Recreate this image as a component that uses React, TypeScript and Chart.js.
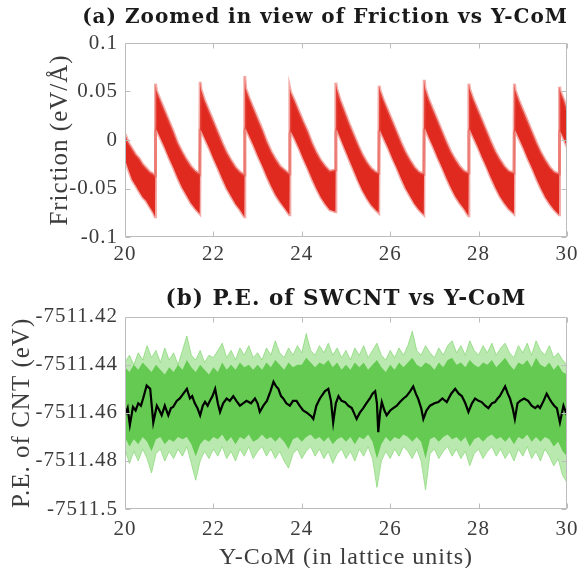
import React, { useEffect, useRef } from 'react';
import { Chart, registerables } from 'chart.js';

Chart.register(...registerables);

// ---------- (a) Friction vs Y-CoM : noisy band read as upper / lower envelope ----------
const frictionX = [
  20.00, 20.08, 20.16, 20.24, 20.32, 20.40, 20.48, 20.56, 20.64, 20.68,
  20.69, 20.71, 20.79, 20.89, 20.99, 21.09, 21.19, 21.29, 21.39, 21.49, 21.59, 21.69,
  21.70, 21.72, 21.80, 21.90, 22.00, 22.10, 22.20, 22.30, 22.40, 22.50, 22.60, 22.70,
  22.71, 22.73, 22.81, 22.91, 23.01, 23.11, 23.21, 23.31, 23.41, 23.51, 23.61, 23.72,
  23.73, 23.75, 23.83, 23.93, 24.03, 24.13, 24.23, 24.33, 24.43, 24.53, 24.63, 24.76,
  24.77, 24.79, 24.87, 24.97, 25.07, 25.17, 25.27, 25.37, 25.47, 25.57, 25.67, 25.74,
  25.75, 25.77, 25.85, 25.95, 26.05, 26.15, 26.25, 26.35, 26.45, 26.55, 26.65, 26.76,
  26.77, 26.79, 26.87, 26.97, 27.07, 27.17, 27.27, 27.37, 27.47, 27.57, 27.67, 27.77,
  27.78, 27.80, 27.88, 27.98, 28.08, 28.18, 28.28, 28.38, 28.48, 28.58, 28.68, 28.80,
  28.81, 28.83, 28.91, 29.01, 29.11, 29.21, 29.31, 29.41, 29.51, 29.61, 29.71, 29.82,
  29.83, 29.85, 29.93, 30.00,
];
const frictionHi = [
  0.006, -0.003, -0.009, -0.015, -0.019, -0.025, -0.029, -0.033, -0.035, -0.037,
  0.058, 0.051, 0.042, 0.031, 0.020, 0.009, -0.003, -0.012, -0.020, -0.027, -0.032, -0.035,
  0.060, 0.052, 0.041, 0.030, 0.019, 0.008, -0.003, -0.013, -0.021, -0.028, -0.033, -0.036,
  0.066, 0.053, 0.043, 0.032, 0.021, 0.010, -0.002, -0.012, -0.020, -0.027, -0.031, -0.035,
  0.053, 0.049, 0.041, 0.030, 0.019, 0.009, -0.003, -0.013, -0.021, -0.027, -0.032, -0.031,
  0.059, 0.053, 0.041, 0.029, 0.017, 0.006, -0.005, -0.015, -0.023, -0.029, -0.033, -0.034,
  0.056, 0.051, 0.041, 0.030, 0.019, 0.008, -0.003, -0.013, -0.021, -0.028, -0.033, -0.035,
  0.062, 0.053, 0.042, 0.031, 0.020, 0.009, -0.002, -0.012, -0.020, -0.027, -0.032, -0.034,
  0.058, 0.052, 0.042, 0.031, 0.020, 0.009, -0.002, -0.012, -0.020, -0.027, -0.032, -0.034,
  0.058, 0.051, 0.041, 0.030, 0.019, 0.008, -0.003, -0.013, -0.021, -0.028, -0.033, -0.035,
  0.055, 0.050, 0.041, 0.031,
];
const frictionLo = [
  -0.020, -0.031, -0.041, -0.047, -0.053, -0.059, -0.063, -0.069, -0.075, -0.079,
  0.008, 0.011, 0.003, -0.007, -0.018, -0.028, -0.039, -0.049, -0.057, -0.065, -0.071, -0.076,
  0.010, 0.010, 0.002, -0.008, -0.019, -0.029, -0.040, -0.050, -0.058, -0.066, -0.072, -0.079,
  0.010, 0.012, 0.004, -0.006, -0.017, -0.027, -0.038, -0.048, -0.057, -0.064, -0.070, -0.077,
  0.006, 0.009, 0.002, -0.008, -0.019, -0.029, -0.040, -0.050, -0.059, -0.066, -0.072, -0.074,
  0.008, 0.011, 0.002, -0.009, -0.020, -0.031, -0.042, -0.052, -0.060, -0.067, -0.072, -0.075,
  0.008, 0.010, 0.002, -0.008, -0.019, -0.029, -0.040, -0.050, -0.058, -0.066, -0.072, -0.077,
  0.010, 0.012, 0.003, -0.007, -0.018, -0.028, -0.039, -0.049, -0.058, -0.065, -0.071, -0.078,
  0.009, 0.011, 0.003, -0.007, -0.018, -0.028, -0.039, -0.049, -0.058, -0.065, -0.071, -0.076,
  0.008, 0.010, 0.002, -0.008, -0.019, -0.029, -0.040, -0.050, -0.059, -0.066, -0.072, -0.077,
  0.008, 0.009, 0.001, -0.007,
];
const frictionTicksY = [-0.1, -0.05, 0, 0.05, 0.1];
const comTicksX = [20, 22, 24, 26, 28, 30];

// ---------- (b) P.E. of SWCNT vs Y-CoM ----------
const peBandX = [
  20.0, 20.1, 20.2, 20.3, 20.4, 20.5, 20.6, 20.7, 20.8, 20.9,
  21.0, 21.1, 21.2, 21.3, 21.4, 21.5, 21.6, 21.7, 21.8, 21.9,
  22.0, 22.1, 22.2, 22.3, 22.4, 22.5, 22.6, 22.7, 22.8, 22.9,
  23.0, 23.1, 23.2, 23.3, 23.4, 23.5, 23.6, 23.7, 23.8, 23.9,
  24.0, 24.1, 24.2, 24.3, 24.4, 24.5, 24.6, 24.7, 24.8, 24.9,
  25.0, 25.1, 25.2, 25.3, 25.4, 25.5, 25.6, 25.7, 25.8, 25.9,
  26.0, 26.1, 26.2, 26.3, 26.4, 26.5, 26.6, 26.7, 26.8, 26.9,
  27.0, 27.1, 27.2, 27.3, 27.4, 27.5, 27.6, 27.7, 27.8, 27.9,
  28.0, 28.1, 28.2, 28.3, 28.4, 28.5, 28.6, 28.7, 28.8, 28.9,
  29.0, 29.1, 29.2, 29.3, 29.4, 29.5, 29.6, 29.7, 29.8, 29.9, 30.0,
];
// spike envelope (light green)
const peOuterHi = [
  -7511.439, -7511.436, -7511.440, -7511.435, -7511.438, -7511.432, -7511.437, -7511.434, -7511.439, -7511.433,
  -7511.438, -7511.435, -7511.440, -7511.434, -7511.428, -7511.436, -7511.438, -7511.434, -7511.439, -7511.436,
  -7511.437, -7511.434, -7511.431, -7511.437, -7511.434, -7511.438, -7511.433, -7511.436, -7511.432, -7511.437,
  -7511.435, -7511.438, -7511.433, -7511.436, -7511.430, -7511.435, -7511.437, -7511.433, -7511.436, -7511.432,
  -7511.435, -7511.427, -7511.434, -7511.436, -7511.432, -7511.435, -7511.431, -7511.436, -7511.433, -7511.437,
  -7511.434, -7511.438, -7511.433, -7511.436, -7511.432, -7511.437, -7511.434, -7511.431, -7511.436, -7511.438,
  -7511.434, -7511.437, -7511.433, -7511.436, -7511.432, -7511.426, -7511.434, -7511.436, -7511.432, -7511.435,
  -7511.437, -7511.433, -7511.436, -7511.432, -7511.430, -7511.435, -7511.432, -7511.436, -7511.430, -7511.434,
  -7511.436, -7511.432, -7511.435, -7511.431, -7511.436, -7511.433, -7511.431, -7511.435, -7511.437, -7511.432,
  -7511.435, -7511.431, -7511.436, -7511.430, -7511.434, -7511.436, -7511.432, -7511.437, -7511.435, -7511.438, -7511.440,
];
const peOuterLo = [
  -7511.475, -7511.481, -7511.476, -7511.480, -7511.475, -7511.479, -7511.485, -7511.477, -7511.475, -7511.480,
  -7511.476, -7511.479, -7511.475, -7511.478, -7511.474, -7511.481, -7511.488, -7511.480, -7511.476, -7511.479,
  -7511.475, -7511.478, -7511.474, -7511.479, -7511.476, -7511.480, -7511.475, -7511.478, -7511.474, -7511.479,
  -7511.476, -7511.474, -7511.478, -7511.475, -7511.479, -7511.476, -7511.480, -7511.483, -7511.477, -7511.475,
  -7511.479, -7511.476, -7511.474, -7511.478, -7511.475, -7511.479, -7511.476, -7511.481, -7511.477, -7511.475,
  -7511.479, -7511.476, -7511.480, -7511.475, -7511.478, -7511.474, -7511.479, -7511.491, -7511.480, -7511.476,
  -7511.479, -7511.475, -7511.478, -7511.474, -7511.476, -7511.479, -7511.475, -7511.480, -7511.492, -7511.477,
  -7511.475, -7511.479, -7511.476, -7511.474, -7511.478, -7511.475, -7511.479, -7511.476, -7511.482, -7511.477,
  -7511.475, -7511.479, -7511.476, -7511.474, -7511.478, -7511.475, -7511.479, -7511.476, -7511.480, -7511.475,
  -7511.478, -7511.474, -7511.479, -7511.476, -7511.480, -7511.475, -7511.478, -7511.482, -7511.479, -7511.486, -7511.489,
];
// dense core of the noise (mid green)
const peInnerHi = [
  -7511.441, -7511.443, -7511.440, -7511.442, -7511.439, -7511.441, -7511.443, -7511.440, -7511.442, -7511.444,
  -7511.441, -7511.443, -7511.440, -7511.442, -7511.438, -7511.441, -7511.443, -7511.440, -7511.442, -7511.444,
  -7511.441, -7511.443, -7511.439, -7511.442, -7511.440, -7511.442, -7511.439, -7511.441, -7511.440, -7511.442,
  -7511.440, -7511.442, -7511.439, -7511.441, -7511.438, -7511.440, -7511.442, -7511.439, -7511.441, -7511.440,
  -7511.440, -7511.437, -7511.439, -7511.441, -7511.439, -7511.440, -7511.438, -7511.441, -7511.439, -7511.442,
  -7511.440, -7511.442, -7511.439, -7511.441, -7511.439, -7511.442, -7511.440, -7511.438, -7511.441, -7511.443,
  -7511.440, -7511.442, -7511.439, -7511.441, -7511.439, -7511.437, -7511.440, -7511.441, -7511.439, -7511.440,
  -7511.442, -7511.439, -7511.441, -7511.438, -7511.437, -7511.440, -7511.439, -7511.441, -7511.438, -7511.440,
  -7511.441, -7511.439, -7511.440, -7511.438, -7511.441, -7511.439, -7511.437, -7511.440, -7511.442, -7511.439,
  -7511.440, -7511.438, -7511.441, -7511.437, -7511.440, -7511.441, -7511.439, -7511.442, -7511.440, -7511.443, -7511.444,
];
const peInnerLo = [
  -7511.470, -7511.474, -7511.471, -7511.473, -7511.470, -7511.472, -7511.476, -7511.471, -7511.470, -7511.473,
  -7511.471, -7511.472, -7511.470, -7511.471, -7511.470, -7511.473, -7511.478, -7511.473, -7511.471, -7511.472,
  -7511.470, -7511.471, -7511.469, -7511.472, -7511.470, -7511.473, -7511.470, -7511.471, -7511.469, -7511.472,
  -7511.471, -7511.469, -7511.471, -7511.470, -7511.472, -7511.470, -7511.472, -7511.475, -7511.471, -7511.470,
  -7511.472, -7511.470, -7511.469, -7511.471, -7511.470, -7511.472, -7511.470, -7511.473, -7511.471, -7511.470,
  -7511.472, -7511.470, -7511.473, -7511.470, -7511.471, -7511.469, -7511.472, -7511.479, -7511.473, -7511.470,
  -7511.472, -7511.470, -7511.471, -7511.469, -7511.470, -7511.472, -7511.470, -7511.472, -7511.479, -7511.471,
  -7511.470, -7511.472, -7511.470, -7511.469, -7511.471, -7511.470, -7511.472, -7511.470, -7511.474, -7511.471,
  -7511.470, -7511.472, -7511.470, -7511.469, -7511.471, -7511.470, -7511.472, -7511.470, -7511.473, -7511.470,
  -7511.471, -7511.469, -7511.472, -7511.470, -7511.472, -7511.470, -7511.471, -7511.474, -7511.472, -7511.476, -7511.478,
];
// running average (black)
const peAvgX = [
  20.00, 20.06, 20.11, 20.18, 20.24, 20.30, 20.36, 20.41, 20.49, 20.57, 20.64, 20.72, 20.78, 20.83, 20.90, 20.98,
  21.04, 21.09, 21.17, 21.24, 21.32, 21.40, 21.47, 21.52, 21.58, 21.64, 21.70, 21.76, 21.81, 21.87, 21.92, 21.98,
  22.04, 22.10, 22.15, 22.22, 22.30, 22.37, 22.45, 22.52, 22.60, 22.67, 22.75, 22.85, 22.94,
  23.00, 23.05, 23.13, 23.21, 23.29, 23.36, 23.42, 23.47, 23.53, 23.58, 23.65, 23.73, 23.80, 23.88, 23.95,
  24.03, 24.12, 24.22, 24.26, 24.33, 24.41, 24.52, 24.60, 24.66, 24.71, 24.77, 24.83, 24.90, 24.98,
  25.05, 25.13, 25.18, 25.24, 25.31, 25.39, 25.46, 25.54, 25.60, 25.66, 25.70, 25.73, 25.77, 25.81, 25.87, 25.92,
  26.00, 26.07, 26.15, 26.22, 26.30, 26.37, 26.45, 26.52, 26.58, 26.63, 26.70, 26.75, 26.82, 26.90,
  27.00, 27.09, 27.18, 27.28, 27.38, 27.47, 27.55, 27.62, 27.70, 27.77, 27.85, 27.92,
  28.00, 28.07, 28.15, 28.22, 28.30, 28.37, 28.43, 28.48, 28.54, 28.60, 28.66, 28.71, 28.77, 28.82, 28.88, 28.94,
  29.03, 29.12, 29.20, 29.28, 29.34, 29.39, 29.47, 29.54, 29.60, 29.65, 29.71, 29.77, 29.84, 29.92, 29.96, 30.00,
];
const peAvgY = [
  -7511.461, -7511.458, -7511.465, -7511.4575, -7511.459, -7511.456, -7511.457, -7511.454, -7511.4486, -7511.450, -7511.464, -7511.457, -7511.459, -7511.461, -7511.457, -7511.461,
  -7511.458, -7511.4575, -7511.455, -7511.454, -7511.452, -7511.450, -7511.454, -7511.453, -7511.456, -7511.458, -7511.461, -7511.457, -7511.4554, -7511.457, -7511.455, -7511.453,
  -7511.450, -7511.456, -7511.4596, -7511.456, -7511.454, -7511.455, -7511.453, -7511.455, -7511.457, -7511.456, -7511.455, -7511.456, -7511.454,
  -7511.456, -7511.4596, -7511.457, -7511.455, -7511.451, -7511.447, -7511.449, -7511.450, -7511.453, -7511.454, -7511.456, -7511.457, -7511.455, -7511.455, -7511.457,
  -7511.459, -7511.460, -7511.4615, -7511.4625, -7511.457, -7511.454, -7511.451, -7511.450, -7511.455, -7511.464, -7511.456, -7511.453, -7511.455, -7511.4555,
  -7511.457, -7511.458, -7511.460, -7511.4625, -7511.460, -7511.458, -7511.456, -7511.454, -7511.452, -7511.451, -7511.456, -7511.468, -7511.460, -7511.4555, -7511.459, -7511.461,
  -7511.459, -7511.458, -7511.457, -7511.4555, -7511.454, -7511.453, -7511.451, -7511.449, -7511.452, -7511.454, -7511.458, -7511.4625, -7511.459, -7511.457,
  -7511.456, -7511.4555, -7511.454, -7511.4555, -7511.452, -7511.450, -7511.452, -7511.453, -7511.456, -7511.4596, -7511.456, -7511.454,
  -7511.455, -7511.4555, -7511.457, -7511.458, -7511.456, -7511.4555, -7511.454, -7511.453, -7511.451, -7511.449, -7511.452, -7511.454, -7511.458, -7511.4625, -7511.456, -7511.455,
  -7511.454, -7511.455, -7511.457, -7511.458, -7511.457, -7511.458, -7511.455, -7511.452, -7511.454, -7511.4555, -7511.457, -7511.458, -7511.464, -7511.457, -7511.459, -7511.461,
];
const peTicksY = [-7511.5, -7511.48, -7511.46, -7511.44, -7511.42];

// ---------- styling ----------
const FRAME = '#bcbcbc';
const TICK_TEXT = '#3c3c3c';
const SERIF = "'Liberation Serif', 'DejaVu Serif', serif";
const PLOT_LEFT = 125;
const PLOT_RIGHT = 567;

const pts = (xs: number[], ys: number[]) => xs.map((x, i) => ({ x, y: ys[i] }));
const fmt = (v: number) => String(Number(v.toFixed(2)));

// widen the lettering a little (the original uses a wide TeX font)
const spacingPlugin = {
  id: 'letterSpacing',
  beforeDraw(chart: any) { (chart.ctx as any).letterSpacing = '1px'; },
  afterDraw(chart: any) { (chart.ctx as any).letterSpacing = '0px'; },
};

// vertical axis title, centred on the plot height at a fixed x
function yTitlePlugin(text: string, centerX: number) {
  return {
    id: 'yAxisTitle',
    afterDraw(chart: any) {
      const { ctx, chartArea: a } = chart;
      ctx.save();
      (ctx as any).letterSpacing = '1px';
      ctx.translate(centerX, (a.top + a.bottom) / 2);
      ctx.rotate(-Math.PI / 2);
      ctx.font = `25px ${SERIF}`;
      ctx.fillStyle = TICK_TEXT;
      ctx.textAlign = 'center';
      ctx.textBaseline = 'middle';
      ctx.fillText(text, 0, 0);
      ctx.restore();
    },
  };
}

const framePlugin = {
  id: 'matlabFrame',
  afterDatasetsDraw(chart: any) {
    const { ctx, chartArea: a, scales } = chart;
    const L = Math.round(a.left) + 0.5, R = Math.round(a.right) - 0.5;
    const T = Math.round(a.top) + 0.5, B = Math.round(a.bottom) - 0.5;
    ctx.save();
    ctx.strokeStyle = FRAME;
    ctx.lineWidth = 1;
    ctx.beginPath();
    ctx.rect(L, T, R - L, B - T);
    const len = 5;
    scales.x.ticks.forEach((t: any) => {
      const px = Math.round(scales.x.getPixelForValue(t.value)) + 0.5;
      ctx.moveTo(px, B); ctx.lineTo(px, B - len);
      ctx.moveTo(px, T); ctx.lineTo(px, T + len);
    });
    scales.y.ticks.forEach((t: any) => {
      const py = Math.round(scales.y.getPixelForValue(t.value)) + 0.5;
      ctx.moveTo(L, py); ctx.lineTo(L + len, py);
      ctx.moveTo(R, py); ctx.lineTo(R - len, py);
    });
    ctx.stroke();
    ctx.restore();
  },
};

function xScale(height: number, withTitle: boolean, padding: number) {
  return {
    type: 'linear',
    min: 20,
    max: 30,
    grid: { display: false, drawTicks: false },
    border: { display: false },
    afterBuildTicks: (s: any) => { s.ticks = comTicksX.map((v) => ({ value: v })); },
    ticks: { padding, color: TICK_TEXT, font: { family: SERIF, size: 21 }, maxRotation: 0, autoSkip: false, callback: (v: any) => fmt(Number(v)) },
    title: withTitle
      ? { display: true, text: 'Y-CoM (in lattice units)', color: TICK_TEXT, font: { family: SERIF, size: 24, lineHeight: 1 }, padding: { top: 0, bottom: -2 } }
      : { display: false },
    afterFit: (s: any) => { s.height = height; },
  };
}

function yScale(min: number, max: number, ticks: number[]) {
  return {
    type: 'linear',
    min,
    max,
    grid: { display: false, drawTicks: false },
    border: { display: false },
    afterBuildTicks: (s: any) => { s.ticks = ticks.map((v) => ({ value: v })); },
    ticks: { padding: 7, color: TICK_TEXT, font: { family: SERIF, size: 21 }, autoSkip: false, callback: (v: any) => fmt(Number(v)) },
    title: { display: false },
    afterFit: (s: any) => { s.width = PLOT_LEFT; },
  };
}

function rightSpacer(width: number) {
  return {
    type: 'linear',
    position: 'right',
    display: true,
    grid: { display: false, drawTicks: false },
    border: { display: false },
    ticks: { display: false },
    afterFit: (s: any) => { s.width = width; },
  };
}

const W1 = 650, H1 = 262; // top canvas (title centred at x = 325)
const W2 = 692, H2 = 306; // bottom canvas (title centred at x = 346)

export default function App() {
  const ref1 = useRef<HTMLCanvasElement>(null);
  const ref2 = useRef<HTMLCanvasElement>(null);

  useEffect(() => {
    const c1 = new Chart(ref1.current as HTMLCanvasElement, {
      type: 'line',
      data: {
        datasets: [
          {
            data: pts(frictionX, frictionHi),
            borderColor: 'rgba(232,90,80,0.5)',
            borderWidth: 3,
            backgroundColor: 'rgb(224,42,32)',
            fill: '+1',
            pointRadius: 0,
            tension: 0,
          },
          {
            data: pts(frictionX, frictionLo),
            borderColor: 'rgba(232,90,80,0.5)',
            borderWidth: 3,
            fill: false,
            pointRadius: 0,
            tension: 0,
          },
        ],
      } as any,
      options: {
        animation: false,
        responsive: false,
        devicePixelRatio: 1,
        layout: { padding: 0 },
        plugins: {
          legend: { display: false },
          tooltip: { enabled: false },
          title: {
            display: true,
            text: '(a) Zoomed in view of Friction vs Y-CoM',
            color: '#1a1a1a',
            font: { family: "'DejaVu Serif', serif", weight: 'bold', size: 20 },
            padding: { top: 6, bottom: 13 },
          },
        },
        scales: {
          x: xScale(H1 - 237, false, 5),
          y: yScale(-0.1, 0.1, frictionTicksY),
          yR: rightSpacer(W1 - PLOT_RIGHT),
        },
      } as any,
      plugins: [spacingPlugin, framePlugin, yTitlePlugin('Friction (eV/Å)', 60)],
    });

    const c2 = new Chart(ref2.current as HTMLCanvasElement, {
      type: 'line',
      data: {
        datasets: [
          {
            data: pts(peAvgX, peAvgY),
            borderColor: '#000000',
            borderWidth: 2.2,
            fill: false,
            pointRadius: 0,
            tension: 0,
          },
          {
            data: pts(peBandX, peInnerHi),
            borderColor: 'rgba(0,0,0,0)',
            borderWidth: 0,
            backgroundColor: 'rgb(100,202,82)',
            fill: '+1',
            pointRadius: 0,
            tension: 0,
          },
          {
            data: pts(peBandX, peInnerLo),
            borderColor: 'rgba(0,0,0,0)',
            borderWidth: 0,
            fill: false,
            pointRadius: 0,
            tension: 0,
          },
          {
            data: pts(peBandX, peOuterHi),
            borderColor: 'rgba(130,214,112,0.7)',
            borderWidth: 1,
            backgroundColor: 'rgba(140,218,122,0.6)',
            fill: '+1',
            pointRadius: 0,
            tension: 0,
          },
          {
            data: pts(peBandX, peOuterLo),
            borderColor: 'rgba(130,214,112,0.7)',
            borderWidth: 1,
            fill: false,
            pointRadius: 0,
            tension: 0,
          },
        ],
      } as any,
      options: {
        animation: false,
        responsive: false,
        devicePixelRatio: 1,
        layout: { padding: 0 },
        plugins: {
          legend: { display: false },
          tooltip: { enabled: false },
          title: {
            display: true,
            text: '(b) P.E. of SWCNT vs Y-CoM',
            color: '#1a1a1a',
            font: { family: "'DejaVu Serif', serif", weight: 'bold', size: 21.5 },
            padding: { top: 25, bottom: 4 },
          },
        },
        scales: {
          x: xScale(H2 - 247, true, 8),
          y: yScale(-7511.5, -7511.42, peTicksY),
          yR: rightSpacer(W2 - PLOT_RIGHT),
        },
      } as any,
      plugins: [spacingPlugin, framePlugin, yTitlePlugin('P.E. of CNT (eV)', 22)],
    });

    return () => {
      c1.destroy();
      c2.destroy();
    };
  }, []);

  return (
    <div style={{ position: 'absolute', left: 0, top: 0, width: 581, height: 568, overflow: 'hidden', background: '#ffffff' }}>
      <canvas ref={ref1} width={W1} height={H1} style={{ position: 'absolute', left: 0, top: 0, width: W1, height: H1 }} />
      <canvas ref={ref2} width={W2} height={H2} style={{ position: 'absolute', left: 0, top: H1, width: W2, height: H2 }} />
    </div>
  );
}
